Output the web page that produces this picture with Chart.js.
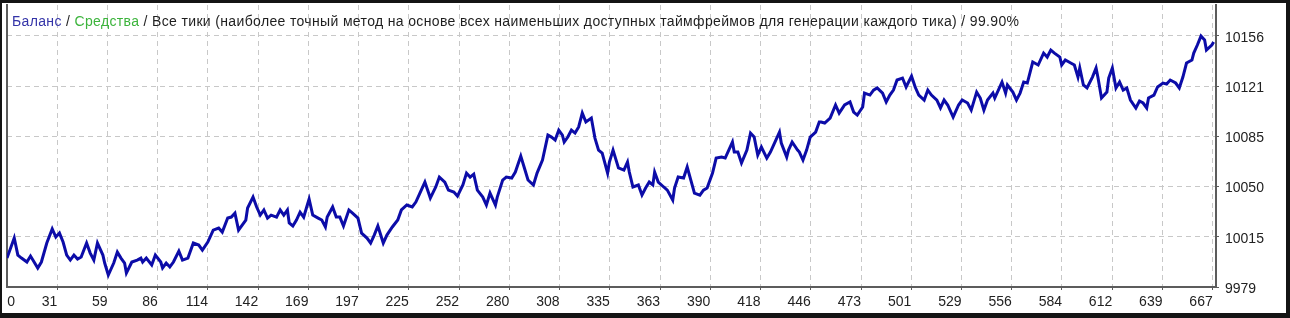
<!DOCTYPE html>
<html>
<head>
<meta charset="utf-8">
<script src="https://cdn.jsdelivr.net/npm/chart.js@4.4.1/dist/chart.umd.min.js"></script>
<style>
html, body { margin: 0; padding: 0; background: #141414; overflow: hidden; }
#frame { position: absolute; left: 2px; top: 3px; width: 1284px; height: 310px; background: #fff; }
#balanceChart { position: absolute; left: 0; top: 0; }
#title { position: absolute; left: 10px; top: 10px; font: 14px "Liberation Sans", Arial, sans-serif; line-height: 16px; letter-spacing: 0.35px; color: #1e1e1e; white-space: nowrap; }
#title .bal { color: #3434a8; }
#title .eq { color: #3cb43c; }
</style>
</head>
<body>
<div id="frame">
  <canvas id="balanceChart" width="1284" height="310"></canvas>
  <div id="title"><span class="bal">Баланс</span> / <span class="eq">Средства</span> / Все тики (наиболее точный метод на основе всех наименьших доступных таймфреймов для генерации каждого тика) / 99.90%</div>
</div>
<script>
// trade number -> balance
var tradeNo = [0, 4, 6, 8, 11, 13, 17, 19, 22, 25, 27, 29, 31, 33, 35, 37, 39, 41, 44, 46,
	48, 50, 53, 54, 56, 59, 61, 63, 65, 66, 69, 72, 74, 75, 77, 80, 82, 85, 86, 88,
	90, 92, 95, 97, 100, 103, 106, 108, 111, 114, 117,
	119, 122, 124, 126, 128, 132, 133, 136, 138, 140, 142, 144, 146, 149, 151, 153, 155, 156, 158, 160,
	162, 164, 166, 167, 169, 172, 174, 176, 177, 180, 182, 184, 186, 189, 191, 194, 196, 199, 201, 203,
	205, 208, 210, 213, 216, 218, 221, 224, 226, 228,
	231, 234, 237, 239, 242, 244, 247, 249, 252, 254, 256, 258, 260, 263, 265, 267, 270, 271, 274, 276,
	279, 281, 284, 286, 288, 291, 293, 296, 299, 301, 303, 305, 307, 308, 310, 312, 314, 316, 318, 320,
	323, 325, 327, 329, 332, 333, 335, 338,
	341, 343, 344, 346, 349, 351, 353, 355, 357, 358, 360, 363, 365, 368, 369, 371, 374, 376, 378, 380,
	383, 385, 387, 390, 392, 395, 397, 401, 402, 404, 406, 409, 411, 413, 415, 417, 420, 422, 425, 427,
	428, 431, 432, 434, 437, 438, 440, 442, 444, 447, 449,
	450, 452, 455, 458, 460, 463, 466, 468, 470, 473, 474, 477, 479, 481, 484, 486, 488, 490, 492, 495,
	497, 500, 502, 504, 507, 509, 511, 514, 516, 518, 520, 523, 526, 528, 531, 533, 536, 538, 540, 542,
	545, 546, 550,
	552, 553, 556, 558, 560, 562, 564, 567, 570, 573, 575, 577, 579, 582, 583, 585, 588, 590, 592, 593,
	595, 597, 600, 602, 603, 605, 608, 609, 611, 613, 615, 617, 619, 621, 624, 626, 628, 630, 631, 634,
	636, 639, 641, 643, 646, 648, 650, 652, 655, 656, 658, 660, 662, 663, 666, 667];

var balance = [9999.4, 10013.5, 10001.5, 9999.4, 9996.6, 10000.8, 9992.4, 9996.6, 10010, 10019.9,
	10014.2, 10017, 10010.7, 10001.5, 9998, 10001.5, 9998.7, 10000.1, 10010, 10002.9,
	9998, 10010, 10001.5, 9995.9, 9987.4, 9995.9, 10003.6, 9999.4, 9995.9, 9988.8,
	9996.6, 9998, 9999.4, 9996.6, 9999.4, 9994.5, 10001.5, 9996.6, 9992.4, 9995.9,
	9993.1, 9996.6, 10004.3, 9998, 9999.4, 10010, 10008.6, 10005, 10010.7, 10019.1, 10020.6,
	10017.7, 10027.6, 10028.3, 10031.1, 10019.1, 10026.2, 10034.7, 10042.4, 10035.4, 10029.7,
	10033.3, 10027.6, 10029.7, 10028.3, 10033.3, 10029.7, 10033.3, 10024.1, 10022, 10026.2,
	10031.8, 10028.3, 10036.8, 10041, 10029.7, 10027.6, 10026.2, 10021.3, 10028.3, 10035.4,
	10028.3, 10028.3, 10022, 10033.3, 10031.1, 10027.6, 10017, 10013.5, 10010, 10015.6,
	10022, 10010, 10015.6, 10021.3, 10026.2, 10033.3, 10036.8, 10035.4, 10038.9, 10044.5,
	10053, 10041.7, 10049.5, 10056.5, 10053, 10047.3, 10045.9, 10043.1, 10050.9, 10059.3,
	10056.5, 10058.6, 10047.3, 10042.4, 10036.8, 10045.2, 10036.8, 10042.4, 10054.4, 10056.5,
	10055.8, 10060, 10071.3, 10062.9, 10054.4, 10050.9, 10059.3, 10068.5, 10086.1, 10084.7,
	10082.6, 10089.6, 10086.1, 10081.2, 10084.7, 10089.6, 10087.5, 10091.8, 10101.6, 10095.3,
	10098.1, 10084, 10075.5, 10073.4, 10059.3, 10067.1, 10075.5, 10062.9,
	10061.4, 10067.1, 10060, 10049.5, 10050.9, 10043.8, 10048.8, 10053, 10050.9, 10060,
	10053, 10049.5, 10047.3, 10040.3, 10048.8, 10056.5, 10055.8, 10063.6, 10054.4, 10045.2,
	10043.8, 10047.3, 10048.8, 10059.3, 10069.9, 10070.6, 10069.9, 10081.2, 10074.1, 10074.1,
	10066.4, 10075.5, 10087.5, 10084.7, 10072, 10077.7, 10069.9, 10074.1, 10082.6, 10088.2,
	10080.5, 10070.6, 10075.5, 10081.2, 10075.5, 10074.1, 10068.5, 10075.5, 10084.7, 10088.2, 10095.3,
	10095.3, 10094.6, 10098.1, 10107.3, 10101.6, 10107.3, 10109.4, 10102.3, 10100.2, 10105.9,
	10115.7, 10114.3, 10117.8, 10119.3, 10115.7, 10109.4, 10114.3, 10117.8, 10124.9, 10126.3,
	10120, 10127.7, 10120, 10114.3, 10110.8, 10117.8, 10114.3, 10110.8, 10105.2, 10110.8,
	10107.3, 10098.8, 10107.3, 10110.8, 10108.7, 10103.7, 10116.4, 10112.2, 10103.7, 10110.8,
	10115.7, 10112.2, 10123.5,
	10115.7, 10121.4, 10116.4, 10110.8, 10115.7, 10123.5, 10122.8, 10137.6, 10135.5, 10143.9,
	10141.1, 10146, 10143.9, 10141.1, 10135.5, 10139, 10136.9, 10135.5, 10127, 10133.4,
	10121.4, 10119.3, 10127, 10133.4, 10127, 10112.2, 10116.4, 10126.3, 10133.4, 10119.3,
	10123.5, 10117.8, 10119.3, 10110.8, 10105.2, 10110.1, 10108.7, 10105.2, 10112.2, 10114.3,
	10120, 10122.8, 10122.1, 10124.9, 10122.8, 10119.3, 10127, 10136.9, 10139, 10143.9,
	10149.6, 10155.9, 10153.1, 10146, 10149.6, 10151.7];

var xTickLabels = ['0', '31', '59', '86', '114', '142', '169', '197', '225', '252', '280', '308', '335',
	'363', '390', '418', '446', '473', '501', '529', '556', '584', '612', '639', '667'];
var yTickLabels = ['9979', '10015', '10050', '10085', '10121', '10156'];

var X_MAX = 668.3;
var X_STEP = 27.77;
var X_FIRST = 4.4;   // "0" label sits just right of the left axis
var Y_MIN = 9979;
var Y_MAX = 10177.8;
var Y_STEP = 35.4;

var GRID = '#c8c8c8';
var AXIS = '#5c5c5c';
var NONE = 'rgba(0,0,0,0)';

Chart.defaults.font.family = '"Liberation Sans", Arial, sans-serif';
Chart.defaults.font.size = 14;
Chart.defaults.color = '#222';

var points = tradeNo.map(function(t, i){ return {x: t, y: balance[i]}; });

var ctx = document.getElementById('balanceChart');
var balanceChart = new Chart(ctx, {
	type: 'line',
	data: {
		datasets: [{
			label: 'Баланс',
			data: points,
			borderColor: '#0c0ca8',
			borderWidth: 3,
			pointRadius: 0,
			tension: 0,
			fill: false
		}]
	},
	options: {
		responsive: false,
		animation: false,
		devicePixelRatio: 1,
		layout: { padding: { left: 5, top: 2, right: 0, bottom: 0 } },
		plugins: {
			legend: { display: false },
			tooltip: { enabled: false }
		},
		scales: {
			x: {
				type: 'linear',
				min: 0,
				max: X_MAX,
				afterBuildTicks: function(s){
					s.ticks = xTickLabels.map(function(l, i){ return {value: i === 0 ? X_FIRST : i * X_STEP}; });
				},
				afterFit: function(s){ s.height = 26; s.paddingLeft = 0; s.paddingRight = 0; },
				grid: {
					color: function(c){ return c.index === 0 ? NONE : GRID; },
					lineWidth: 1,
					tickLength: 3,
					tickWidth: 1,
					tickColor: function(c){ return c.index === 0 ? NONE : AXIS; }
				},
				border: { color: AXIS, width: 2, dash: [5, 4] },
				ticks: {
					align: 'end',
					padding: 4,
					autoSkip: false,
					maxRotation: 0,
					callback: function(v, i){ return xTickLabels[i]; }
				}
			},
			y: {
				position: 'right',
				min: Y_MIN,
				max: Y_MAX,
				afterBuildTicks: function(s){
					s.ticks = yTickLabels.map(function(l, i){ return {value: Y_MIN + i * Y_STEP}; });
				},
				afterFit: function(s){ s.width = 70; s.paddingTop = 0; s.paddingBottom = 0; },
				grid: {
					color: function(c){ return c.index === 0 ? NONE : GRID; },
					lineWidth: 1,
					tickLength: 3,
					tickWidth: 1,
					tickColor: AXIS
				},
				border: { color: AXIS, width: 2, dash: [5, 4] },
				ticks: {
					padding: 6,
					labelOffset: 2,
					autoSkip: false,
					callback: function(v, i){ return yTickLabels[i]; }
				}
			},
			yLeft: {
				axis: 'y',
				position: 'left',
				display: true,
				grid: { display: false },
				ticks: { display: false },
				border: { color: AXIS, width: 2 },
				afterFit: function(s){ s.width = 0; s.paddingTop = 0; s.paddingBottom = 0; }
			}
		}
	}
});
</script>
</body>
</html>
